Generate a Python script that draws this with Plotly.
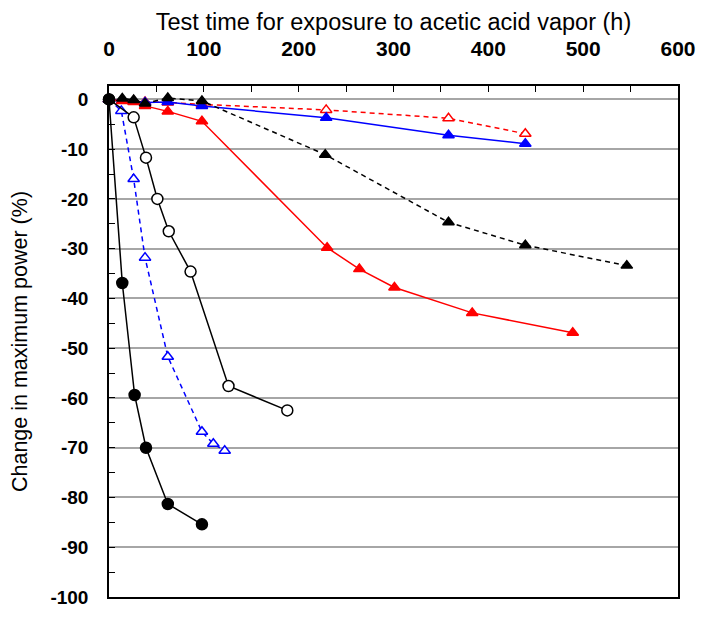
import plotly.graph_objects as go

# black filled circles, solid line
t_fc = [0, 14, 27, 39, 62, 98]
p_fc = [0, -36.9, -59.4, -70.0, -81.3, -85.4]

# black open circles, solid line
t_oc = [0, 26, 39, 51, 63, 86, 126, 188]
p_oc = [0, -3.6, -11.7, -20.0, -26.5, -34.6, -57.6, -62.5]

# blue open triangles, dashed line
t_bo = [0, 13, 26, 38, 62, 98, 110, 122]
p_bo = [0, -2.3, -16.0, -31.8, -51.7, -66.8, -69.2, -70.6]

# red open triangles, dashed line
t_ro = [0, 14, 26, 38, 62, 98, 229, 358, 439]
p_ro = [0, -0.2, -0.3, -0.5, -0.6, -1.0, -2.1, -3.8, -6.9]

# blue filled triangles, solid line
t_bf = [0, 14, 26, 38, 62, 98, 229, 358, 439]
p_bf = [0, -0.2, -0.4, -0.6, -0.5, -1.3, -3.7, -7.2, -8.9]

# red filled triangles, solid line
t_rf = [0, 14, 26, 38, 62, 98, 230, 264, 301, 383, 489]
p_rf = [0, -0.3, -0.5, -1.3, -2.4, -4.4, -29.8, -34.1, -37.8, -42.9, -46.9]

# black filled triangles, dashed line
t_kf = [0, 14, 26, 38, 62, 98, 228, 358, 439, 546]
p_kf = [0, 0.2, -0.1, -0.8, 0.3, -0.3, -11.1, -24.7, -29.3, -33.4]

# y tick labels (plain hyphen, as in the original)
y_ticks = [0, -10, -20, -30, -40, -50, -60, -70, -80, -90, -100]
y_labels = ["0", "-10", "-20", "-30", "-40", "-50", "-60", "-70", "-80", "-90", "-100"]

series = [
    (t_ro, p_ro, "red", "triangle-up", "white", "5px,4px"),
    (t_bf, p_bf, "blue", "triangle-up", "blue", "solid"),
    (t_rf, p_rf, "red", "triangle-up", "red", "solid"),
    (t_bo, p_bo, "blue", "triangle-up", "white", "5px,4px"),
    (t_oc, p_oc, "black", "circle", "white", "solid"),
    (t_fc, p_fc, "black", "circle", "black", "solid"),
    (t_kf, p_kf, "black", "triangle-up", "black", "5px,4px"),
]

fig = go.Figure()
for t, p, col, sym, fill, dash in series:
    fig.add_trace(go.Scatter(
        x=t, y=p, mode="lines+markers",
        line=dict(color=col, width=1.5, dash=dash),
        marker=dict(symbol=sym, size=11 if sym == "circle" else 10,
                    color=fill, line=dict(color=col, width=1.5)),
        showlegend=False,
        cliponaxis=False,
    ))

# the page body has an 8px margin, so the figure sits at (8, 8) and is 688x603
fig.update_layout(
    width=688, height=603,
    margin=dict(l=101, r=18, t=78, b=14),
    plot_bgcolor="white", paper_bgcolor="white",
    font=dict(family="Liberation Sans", color="black"),
)
fig.update_xaxes(
    side="top", range=[0, 600], dtick=100, showgrid=False, zeroline=False,
    automargin=False,
    ticks="inside", ticklen=6, tickcolor="black",
    minor=dict(dtick=50, ticks="inside", ticklen=6, tickcolor="black"),
    showline=True, linecolor="black", linewidth=1.5, mirror=True,
    tickfont=dict(size=21, weight="bold"), ticklabelstandoff=20,
    title=dict(text="Test time for exposure to acetic acid vapor (h)",
               font=dict(size=23.5), standoff=0),
)
fig.update_yaxes(
    range=[-100, 2.7], tickvals=y_ticks, ticktext=y_labels, zeroline=False,
    automargin=False,
    showgrid=True, gridcolor="#a6a6a6", gridwidth=1.5,
    ticks="inside", ticklen=6, tickcolor="black",
    minor=dict(dtick=5, ticks="inside", ticklen=6, tickcolor="black", showgrid=False),
    showline=True, linecolor="black", linewidth=1.5, mirror=True,
    tickfont=dict(size=19, weight="bold"), ticklabelstandoff=15,
    title=dict(text="Change in maximum power (%)", font=dict(size=21.5), standoff=18),
)

fig.write_html("out.html")
